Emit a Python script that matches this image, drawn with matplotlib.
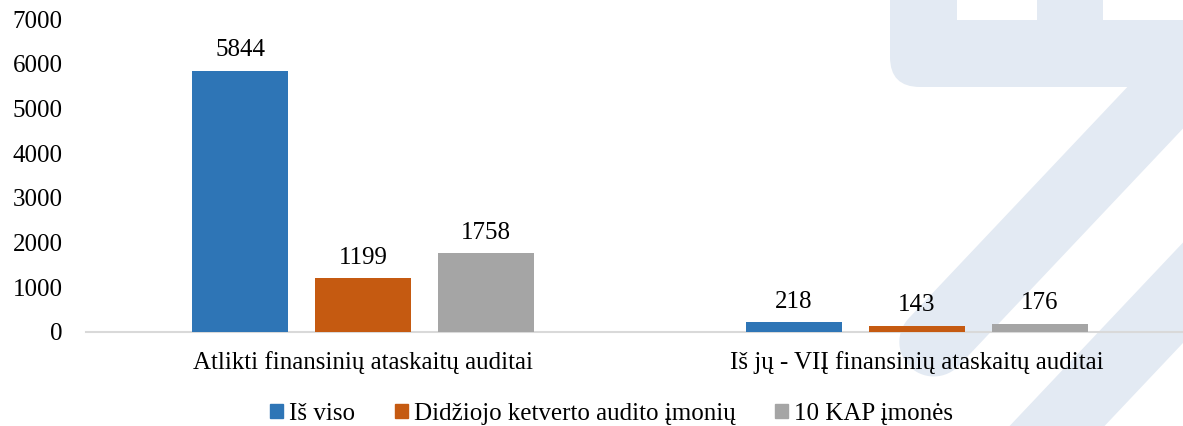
import matplotlib
matplotlib.use('Agg')
import matplotlib.pyplot as plt
import matplotlib.patches as patches
from matplotlib.transforms import IdentityTransform
import numpy as np

# duomenys
categories = ['Atlikti finansinių ataskaitų auditai', 'Iš jų - VIĮ finansinių ataskaitų auditai']
series_names = ['Iš viso', 'Didžiojo ketverto audito įmonių', '10 KAP įmonės']
is_viso = [5844, 218]
big4 = [1199, 143]
kap10 = [1758, 176]
y_ticks = [0, 1000, 2000, 3000, 4000, 5000, 6000, 7000]

colors = ['#2E75B6', '#C55A11', '#A5A5A5']
wm_color = '#E3EAF3'

plt.rcParams['font.family'] = ['Liberation Serif', 'DejaVu Serif']

W, H = 1183, 426
fig = plt.figure(figsize=(W / 100, H / 100), dpi=100)
ident = IdentityTransform()


# vandens ženklas: taškai paveikslėlio pikseliais (y nuo viršaus)
def to_disp(pts):
    pts = np.asarray(pts, dtype=float)
    return np.column_stack([pts[:, 0], H - pts[:, 1]])


def band(start, end, hw, round_end=False):
    s = np.array(start, float)
    e = np.array(end, float)
    d = (e - s) / np.linalg.norm(e - s)
    n = np.array([-d[1], d[0]])
    pts = [s + n * hw, e + n * hw]
    if round_end:
        a0 = np.arctan2(n[1], n[0])
        for t in np.linspace(a0, a0 - np.pi, 30):
            pts.append(e + hw * np.array([np.cos(t), np.sin(t)]))
    pts += [e - n * hw, s - n * hw]
    return patches.Polygon(to_disp(pts), closed=True, facecolor=wm_color,
                           edgecolor='none', transform=ident, zorder=-10)


top = patches.FancyBboxPatch((890, H - 87), 420, 150,
                             boxstyle='round,pad=0,rounding_size=30',
                             facecolor=wm_color, edgecolor='none',
                             transform=ident, zorder=-10)
fig.patches.append(top)
for x0, x1 in [(957, 1037), (1103, 1300)]:
    fig.patches.append(patches.Rectangle((x0, H - 20), x1 - x0, 40, facecolor='white',
                                         edgecolor='none', transform=ident, zorder=-9))

k = 0.945
fig.patches.append(band((1068 + k * 150, 50), (1068 - k * 142, 342), 34.5, round_end=True))
fig.patches.append(band((1230 + k * 120, 123), (1230 - k * 300, 543), 34.5))

ax = fig.add_axes([86 / W, 1 - 332 / H, 1108 / W, (332 - 19) / H])
ax.patch.set_alpha(0)

x = np.arange(len(categories))
bw = 0.173
step = 0.222
for i, (vals, name) in enumerate(zip([is_viso, big4, kap10], series_names)):
    bars = ax.bar(x + (i - 1) * step, vals, bw, color=colors[i], label=name, zorder=3)
    ax.bar_label(bars, padding=7, fontsize=18)

ax.set_xlim(-0.5, 1.5)
ax.set_ylim(0, 7000)
ax.set_yticks(y_ticks)
ax.set_xticks(x)
ax.set_xticklabels(categories, fontsize=18)
ax.tick_params(axis='y', length=0, labelsize=18, pad=17)
ax.tick_params(axis='x', length=0, pad=14)

for s in ['top', 'right', 'left']:
    ax.spines[s].set_visible(False)
ax.spines['bottom'].set_color('#D9D9D9')
ax.spines['bottom'].set_linewidth(1.5)

# legenda apačioje
handles = [patches.Patch(color=c) for c in colors]
fig.legend(handles, series_names, loc='center', bbox_to_anchor=(611.5 / W, 1 - 414 / H),
           ncol=3, frameon=False, fontsize=18, handlelength=0.52, handleheight=0.52,
           handletextpad=0.24, columnspacing=1.6, borderpad=0, borderaxespad=0)

plt.savefig('out.png', dpi=100)
